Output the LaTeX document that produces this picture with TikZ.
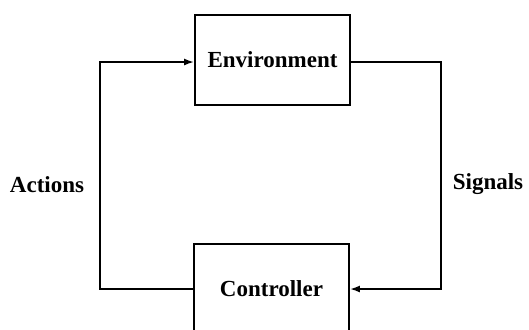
\documentclass[tikz,border=0pt]{standalone}
\usepackage{fontspec}
\setmainfont{Liberation Serif}
\usetikzlibrary{arrows.meta,positioning}

\begin{document}
\begin{tikzpicture}[x=0.5pt, y=-0.5pt,
		block/.style={draw, line width=0.9pt, minimum width=77.5pt, minimum height=45pt, font=\fontsize{11.5}{13}\selectfont\bfseries},
		wire/.style={line width=0.9pt, -{Latex[length=5pt, width=3.5pt]}},
		lbl/.style={font=\fontsize{11.5}{13}\selectfont\bfseries}]
		\useasboundingbox (0,0) rectangle (529,329);
		\clip (0,0) rectangle (529,329);
		
		\node[block] (env) at (272.5, 60) {Environment};
		\node[block] (ctrl) at (271.5, 289) {Controller};
		
		\coordinate (LT) at (100, 62);
		\coordinate (LB) at (100, 289);
		\coordinate (RT) at (441, 62);
		\coordinate (RB) at (441, 289);
		
		\draw[wire] (ctrl.west) -- (LB) -- (LT) -- (env.west |- LT);
		\draw[wire] (env.east |- RT) -- (RT) -- (RB) -- (ctrl.east);
		
		\node[lbl] (act) at (47, 185) {Actions};
		\node[lbl] (sig) at (488, 184) {Signals};
	\end{tikzpicture}
\end{document}
